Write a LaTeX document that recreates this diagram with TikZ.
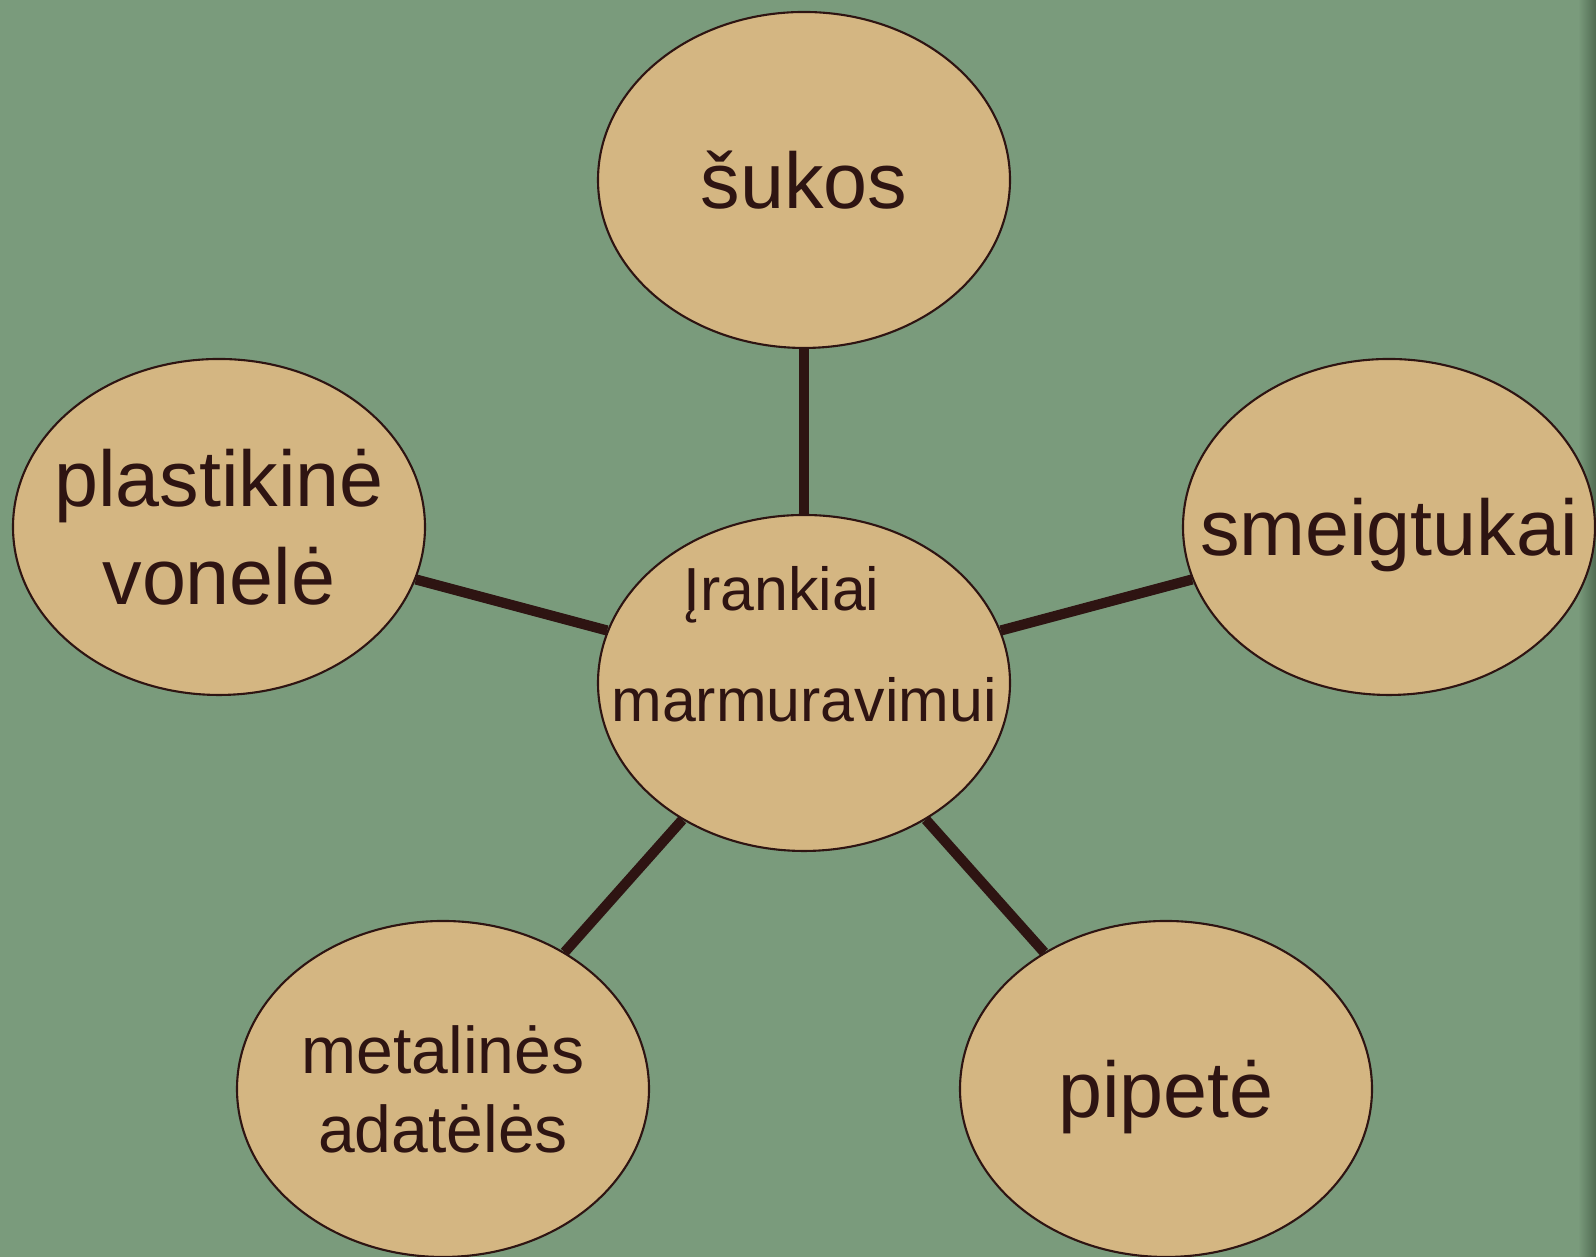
\documentclass[tikz,border=0pt]{standalone}
\usepackage{fontspec}
\setmainfont{Liberation Sans}
\usetikzlibrary{shapes.geometric}
\definecolor{fonas}{RGB}{122,155,124}
\definecolor{fonastamsus}{RGB}{80,107,82}
\definecolor{smelis}{RGB}{212,182,130}
\definecolor{ruda}{RGB}{46,20,18}
\begin{document}
\begin{tikzpicture}[
        burbulas/.style={draw=ruda, line width=0.6pt, fill=smelis, ellipse, inner sep=0pt,
            minimum width=4.12cm, minimum height=3.36cm},
        tekstas/.style={text=ruda, align=center, inner sep=0pt, text depth=0pt},
        didelis/.style={tekstas, font=\fontsize{22.5}{27.9}\selectfont},
        mazas/.style={tekstas, font=\fontsize{18.8}{22.6}\selectfont},
        jungtis/.style={draw=ruda, line width=2.9pt}
    ]
        \fill[fonas] (0,0) rectangle (15.96,12.57);
        \shade[left color=fonas, right color=fonastamsus] (15.78,0) rectangle (15.96,12.57);
        \useasboundingbox (0,0) rectangle (15.96,12.57);

        \node[burbulas, label={[text=ruda, align=center, inner sep=0pt,
            font=\fontsize{17.3}{31.3}\selectfont]center:{Įrankiai\hspace*{0.45cm}\\marmuravimui\rule[-0.78cm]{0pt}{0.78cm}}}]
            (centras) at (8.04,5.74) {};
        \node[burbulas, label={[didelis]center:šukos}] (sukos) at (8.04,10.77) {};
        \node[burbulas, label={[didelis]center:{plastikinė\\vonelė}}] (vonele) at (2.19,7.30) {};
        \node[burbulas, label={[didelis]center:smeigtukai}] (smeigtukai) at (13.89,7.30) {};
        \node[burbulas, label={[mazas]center:{metalinės\\adatėlės}}] (adateles) at (4.43,1.68) {};
        \node[burbulas, label={[didelis]center:pipetė}] (pipete) at (11.66,1.68) {};

        \path[jungtis] (centras) -- (sukos);
        \path[jungtis] (centras) -- (vonele);
        \path[jungtis] (centras) -- (smeigtukai);
        \path[jungtis] (centras) -- (adateles);
        \path[jungtis] (centras) -- (pipete);
    \end{tikzpicture}
\end{document}
